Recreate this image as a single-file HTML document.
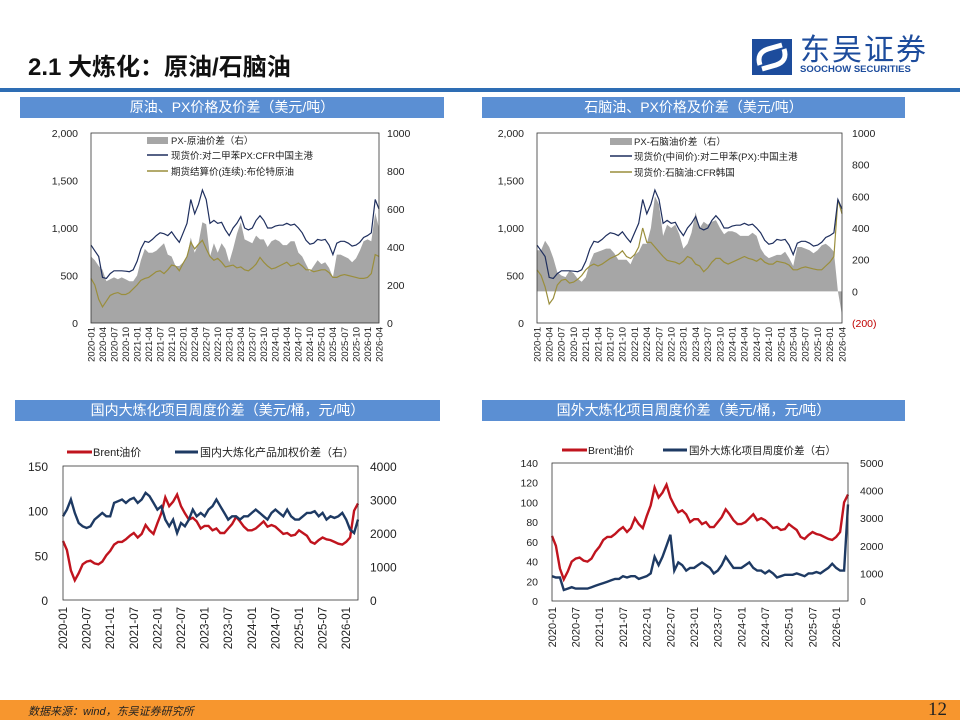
<!DOCTYPE html>
<html><head><meta charset="utf-8">
<style>
body{margin:0;width:960px;height:720px;overflow:hidden;background:#fff;font-family:"Liberation Sans","Noto Sans CJK SC",sans-serif;position:relative}
.hdr{position:absolute;height:21px;background:#5b8fd3;color:#fff;font-size:14px;line-height:21px;text-align:center}
</style></head>
<body>
<div style="position:absolute;left:28px;top:47px;font-size:24px;font-weight:bold;color:#111">2.1 大炼化：原油/石脑油</div>
<div style="position:absolute;left:752px;top:38px;width:190px;height:40px">
 <svg width="40" height="36" style="position:absolute;left:0;top:1px"><rect width="40" height="36" fill="#1d4c9c"/><path d="M8 26 Q4 14 16 10 L30 6 M32 10 Q36 22 24 26 L10 30" stroke="#fff" stroke-width="5" fill="none"/></svg>
 <div style="position:absolute;left:48px;top:0px;font-size:30px;line-height:26px;color:#1d4c9c;letter-spacing:2px">东吴证券</div>
 <div style="position:absolute;left:48px;top:27px;font-size:9.5px;line-height:10px;font-weight:bold;color:#1d4c9c">SOOCHOW SECURITIES</div>
</div>
<div style="position:absolute;left:0;top:88px;width:960px;height:4px;background:#2e6db4"></div>
<div class="hdr" style="left:20px;top:97px;width:424px">原油、PX价格及价差（美元/吨）</div>
<div class="hdr" style="left:482px;top:97px;width:423px">石脑油、PX价格及价差（美元/吨）</div>
<div class="hdr" style="left:15px;top:400px;width:425px">国内大炼化项目周度价差（美元/桶，元/吨）</div>
<div class="hdr" style="left:482px;top:400px;width:423px">国外大炼化项目周度价差（美元/桶，元/吨）</div>
<svg id="svg" width="960" height="720" style="position:absolute;left:0;top:0"></svg>
<div style="position:absolute;left:0;top:700px;width:960px;height:20px;background:#f7962e">
 <span style="position:absolute;left:28px;top:3px;font-size:11px;font-style:italic;color:#222">数据来源：wind，东吴证券研究所</span>
 <span style="position:absolute;left:928px;top:-1px;font-size:19px;font-family:'Liberation Serif',serif;color:#222">12</span>
</div>
<script>
const pxPrice=[820,760,700,480,470,520,550,550,550,545,540,560,650,780,860,850,880,920,950,940,920,960,900,850,950,1050,1300,1150,1250,1400,1300,1050,1080,1050,1060,980,920,1000,1050,1120,1000,980,1000,1080,1130,1080,1000,1000,1020,1030,1030,1050,1030,1040,1000,950,870,830,840,880,870,880,820,720,840,860,860,840,810,820,850,900,920,950,1300,1200];
const brentTon=[470,400,250,170,230,290,310,320,300,300,320,360,400,450,470,480,510,540,550,520,560,610,600,550,630,700,850,780,830,870,780,700,660,680,640,590,600,610,580,590,560,550,580,620,690,640,600,570,580,600,620,640,600,610,630,600,560,560,540,550,560,560,530,480,480,500,510,500,490,480,470,470,480,520,720,700];
const pxCrudeSpread=[350,330,300,280,220,230,240,230,240,230,220,220,250,330,390,370,370,380,400,420,360,350,300,300,320,350,450,370,420,530,520,350,420,370,420,390,320,390,470,530,440,430,420,460,440,440,400,430,440,430,410,410,430,430,370,350,310,270,300,330,310,320,290,240,360,360,350,340,320,340,380,430,440,430,580,500];
const naphtha=[560,500,380,200,260,400,450,460,420,430,460,500,560,600,620,600,620,650,680,700,720,760,700,680,720,800,1000,850,850,800,750,700,660,650,640,620,650,700,680,620,600,540,580,640,680,680,640,620,640,660,680,700,680,670,650,680,640,620,620,650,640,630,610,560,560,580,590,580,570,560,560,600,640,700,1300,1150];
const pxNaphthaSpread=[260,260,320,280,210,120,100,90,130,115,80,60,90,180,240,250,260,270,270,240,200,200,200,170,230,250,300,300,400,600,550,350,420,400,420,360,270,300,370,500,400,440,420,440,450,400,360,380,380,370,350,350,350,370,350,270,230,210,220,230,230,250,210,160,280,280,270,260,240,260,290,300,280,250,0,-150];
const brentBbl=[66,56,33,22,30,40,43,44,41,40,43,50,55,62,65,65,68,72,75,70,74,84,78,74,86,97,115,105,110,118,105,97,90,92,88,80,83,83,78,80,75,75,80,85,93,88,82,78,78,80,84,88,82,84,82,78,74,75,72,73,78,75,72,65,63,67,70,68,67,65,63,62,65,70,100,108];
const domesticSpread=[2500,2700,3000,2600,2300,2200,2150,2200,2400,2500,2600,2500,2500,2900,2950,3000,2900,3000,3050,2900,3000,3200,3100,2900,2700,2800,2400,2200,2400,2000,2300,2200,2400,2700,2500,2600,2500,2700,2800,3000,2800,2600,2400,2500,2500,2400,2500,2500,2600,2700,2600,2500,2400,2600,2700,2600,2500,2700,2500,2400,2400,2500,2600,2600,2650,2500,2600,2400,2500,2450,2500,2600,2400,2100,2000,2400];
const foreignSpread=[900,850,850,400,450,500,450,450,450,450,500,550,600,650,700,750,800,800,900,850,900,900,800,850,900,1000,1600,1300,1600,2000,2400,1100,1400,1300,1100,1200,1200,1300,1400,1300,1200,1000,1100,1300,1600,1400,1200,1200,1200,1300,1400,1200,1100,1100,1000,1100,1000,850,900,950,950,950,1000,950,900,1000,1000,1050,1000,1100,1200,1350,1200,1100,1100,3500];
const ticksL12=[0,500,1000,1500,2000];
const ticksR1=[0,200,400,600,800,1000];
const ticksR2=[-200,0,200,400,600,800,1000];
const ticksL3=[0,50,100,150];
const ticksR3=[0,1000,2000,3000,4000];
const ticksL4=[0,20,40,60,80,100,120,140];
const ticksR4=[0,1000,2000,3000,4000,5000];

const svg=document.getElementById('svg');
const NS='http://www.w3.org/2000/svg';
function mk(tag,attrs,parent){const e=document.createElementNS(NS,tag);for(const k in attrs)e.setAttribute(k,attrs[k]);(parent||svg).appendChild(e);return e;}
function txt(x,y,s,attrs){const t=mk('text',Object.assign({x:x,y:y,'font-size':11,fill:'#222','font-family':'Liberation Sans, Noto Sans CJK SC, sans-serif'},attrs||{}));t.textContent=s;return t;}
function mkAxis(x0,x1,n){return i=>x0+(x1-x0)*i/(n-1);}
function mkY(y0,y1,lo,hi){return v=>y0-(y0-y1)*(v-lo)/(hi-lo);}
function linePath(vals,X,Y){return vals.map((v,i)=>(i?'L':'M')+X(i).toFixed(1)+' '+Y(v).toFixed(1)).join(' ');}
function fmt(v){return v<0?'('+(-v)+')':String(v);}
function xLabels(X,step,last,yTop,fs,name){for(let i=0;i<=last;i+=step){const y=2020+Math.floor(i/12),m=i%12+1;const lab=y+'-'+(m<10?'0':'')+m;const t=txt(0,0,lab,{'font-size':fs,'text-anchor':'end',transform:'translate('+(X(i)+fs*0.35)+','+yTop+') rotate(-90)'});}}

// Chart 1
(function(){
const X=mkAxis(91,379,76),YL=mkY(323,133,0,2000),YR=mkY(323,133,0,1000);
const g=mk('g',{});
const area=mk('path',{d:'M'+X(0)+' '+YR(0)+' '+linePath(pxCrudeSpread,X,YR).replace('M','L')+' L'+X(75)+' '+YR(0)+'Z',fill:'#a6a6a6'},g);

const l1=mk('path',{d:linePath(brentTon,X,YL),fill:'none',stroke:'#9a8e3c','stroke-width':1.2},g);

const l2=mk('path',{d:linePath(pxPrice,X,YL),fill:'none',stroke:'#1f2f5e','stroke-width':1.2},g);

mk('rect',{x:91,y:133,width:288,height:190,fill:'none',stroke:'#333','stroke-width':0.8},g);
ticksL12.forEach(v=>{const t=txt(78,YL(v)+4,v.toLocaleString('en-US'),{'text-anchor':'end','font-size':10.5});});
ticksR1.forEach(v=>{const t=txt(387,YR(v)+4,String(v),{'font-size':10.5});});
xLabels(X,3,75,327,9.5,'x-tick');
mk('rect',{x:147,y:137,width:21,height:7,fill:'#a6a6a6'},g);
txt(171,144,'PX-原油价差（右）',{'font-size':9.5});
mk('line',{x1:147,y1:155,x2:168,y2:155,stroke:'#1f2f5e','stroke-width':1.5},g);
txt(171,159,'现货价:对二甲苯PX:CFR中国主港',{'font-size':9.5});
mk('line',{x1:147,y1:171,x2:168,y2:171,stroke:'#9a8e3c','stroke-width':1.5},g);
txt(171,175,'期货结算价(连续):布伦特原油',{'font-size':9.5});
})();

// Chart 2
(function(){
const X=mkAxis(537,842,76),YL=mkY(323,133,0,2000),YR=mkY(323,133,-200,1000);
const g=mk('g',{});
const area=mk('path',{d:'M'+X(0)+' '+YR(0)+' '+linePath(pxNaphthaSpread,X,YR).replace('M','L')+' L'+X(75)+' '+YR(0)+'Z',fill:'#a6a6a6'},g);

const l1=mk('path',{d:linePath(naphtha,X,YL),fill:'none',stroke:'#9a8e3c','stroke-width':1.2},g);

const l2=mk('path',{d:linePath(pxPrice,X,YL),fill:'none',stroke:'#1f2f5e','stroke-width':1.2},g);

mk('rect',{x:537,y:133,width:305,height:190,fill:'none',stroke:'#333','stroke-width':0.8},g);
ticksL12.forEach(v=>{const t=txt(524,YL(v)+4,v.toLocaleString('en-US'),{'text-anchor':'end','font-size':10.5});});
ticksR2.forEach(v=>{const t=txt(852,YR(v)+4,fmt(v),{'font-size':10.5,fill:v<0?'#c00000':'#222'});});
xLabels(X,3,75,327,9.5,'x-tick');
mk('rect',{x:610,y:138,width:22,height:7,fill:'#a6a6a6'},g);
txt(634,145,'PX-石脑油价差（右）',{'font-size':9.5});
mk('line',{x1:610,y1:156,x2:632,y2:156,stroke:'#1f2f5e','stroke-width':1.5},g);
txt(634,160,'现货价(中间价):对二甲苯(PX):中国主港',{'font-size':9.5});
mk('line',{x1:610,y1:172,x2:632,y2:172,stroke:'#9a8e3c','stroke-width':1.5},g);
txt(634,176,'现货价:石脑油:CFR韩国',{'font-size':9.5});
})();

// Chart 3
(function(){
const X=mkAxis(63,358,76),YL=mkY(600,466,0,150),YR=mkY(600,466,0,4000);
const g=mk('g',{});
const l1=mk('path',{d:linePath(brentBbl,X,YL),fill:'none',stroke:'#c0141e','stroke-width':2.4},g);

const l2=mk('path',{d:linePath(domesticSpread,X,YR),fill:'none',stroke:'#1e3a63','stroke-width':2.4},g);

mk('rect',{x:63,y:466,width:295,height:134,fill:'none',stroke:'#333','stroke-width':0.8},g);
ticksL3.forEach(v=>{const t=txt(48,YL(v)+5,String(v),{'text-anchor':'end','font-size':12});});
ticksR3.forEach(v=>{const t=txt(370,YR(v)+5,String(v),{'font-size':12});});
xLabels(X,6,72,607,11.5,'x-tick');
mk('line',{x1:67,y1:452,x2:92,y2:452,stroke:'#c0141e','stroke-width':3},g);
txt(93,456,'Brent油价',{'font-size':11});
mk('line',{x1:175,y1:452,x2:198,y2:452,stroke:'#1e3a63','stroke-width':3},g);
txt(200,456,'国内大炼化产品加权价差（右）',{'font-size':11});
})();

// Chart 4
(function(){
const X=mkAxis(552,848,76),YL=mkY(601,463,0,140),YR=mkY(601,463,0,5000);
const g=mk('g',{});
const l1=mk('path',{d:linePath(brentBbl,X,YL),fill:'none',stroke:'#c0141e','stroke-width':2.4},g);

const l2=mk('path',{d:linePath(foreignSpread,X,YR),fill:'none',stroke:'#1e3a63','stroke-width':2.4},g);

mk('rect',{x:552,y:463,width:296,height:138,fill:'none',stroke:'#333','stroke-width':0.8},g);
ticksL4.forEach(v=>{const t=txt(538,YL(v)+4,String(v),{'text-anchor':'end','font-size':10.5});});
ticksR4.forEach(v=>{const t=txt(860,YR(v)+4,String(v),{'font-size':10.5});});
xLabels(X,6,72,607,11,'x-tick');
mk('line',{x1:562,y1:450,x2:587,y2:450,stroke:'#c0141e','stroke-width':3},g);
txt(588,454,'Brent油价',{'font-size':10.5});
mk('line',{x1:663,y1:450,x2:687,y2:450,stroke:'#1e3a63','stroke-width':3},g);
txt(689,454,'国外大炼化项目周度价差（右）',{'font-size':10.5});
})();
</script>
</body></html>
